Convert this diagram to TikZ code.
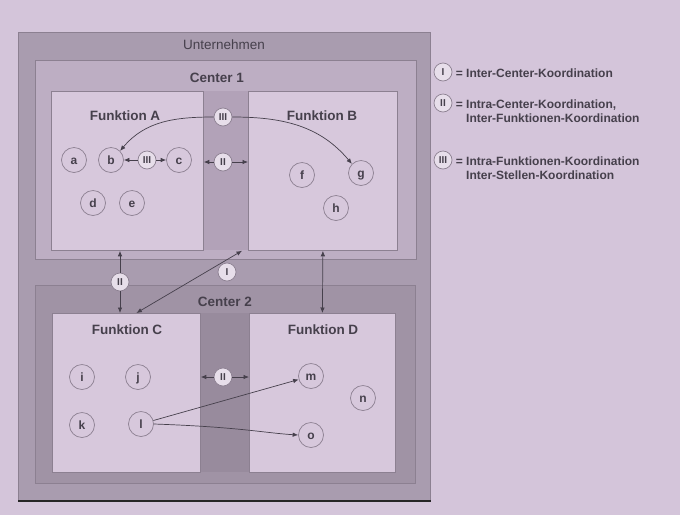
\documentclass[tikz,border=0pt]{standalone}
\usepackage{fontspec}
\setmainfont{Liberation Sans}
\usepackage{tikz}
\usetikzlibrary{arrows.meta}
\usetikzlibrary{positioning}
\definecolor{hinter}{HTML}{D4C5DA}
\definecolor{untern}{HTML}{A99CAF}
\definecolor{centereins}{HTML}{BDAEC3}
\definecolor{centerzwei}{HTML}{A093A5}
\definecolor{streifeneins}{HTML}{B2A2B8}
\definecolor{streifenzwei}{HTML}{988B9D}
\definecolor{funktion}{HTML}{D7C8DC}
\definecolor{rand}{HTML}{8C8091}
\definecolor{schrift}{HTML}{46404C}

\begin{document}
\begin{tikzpicture}
	[x=1pt,y=-1pt,
	 every node/.style={text=schrift},
	 kasten/.style={draw=rand,line width=0.8pt,inner sep=0pt,anchor=north west},
	 titel/.style={font=\fontsize{13.5}{15}\selectfont\bfseries},
	 stelle/.style={circle,draw=rand,line width=0.7pt,minimum size=25pt,inner sep=0pt,text height=8pt,text depth=0pt,font=\fontsize{12}{13}\selectfont\bfseries},
	 koord/.style={circle,draw=rand,line width=0.7pt,fill=funktion!60!white,minimum size=18pt,inner sep=0pt,text height=7pt,text depth=0pt,font=\fontsize{10}{11}\selectfont\bfseries},
	 legende/.style={anchor=north west,align=left,font=\fontsize{12}{14}\selectfont\bfseries},
	 pfeil/.style={draw=schrift,line width=0.7pt,-{Latex[length=5.5pt,width=4.5pt]}},
	 dpfeil/.style={pfeil,{Latex[length=5.5pt,width=4.5pt]}-{Latex[length=5.5pt,width=4.5pt]}}]
	\useasboundingbox[fill=hinter] (0,0) rectangle (680,515);
	% Kaesten
	\node[kasten,fill=untern,minimum width=412pt,minimum height=468pt] (unt) at (18,32) {};
	\draw[line width=2pt,black!85] (unt.south west) -- (unt.south east);
	\node[kasten,fill=centereins,minimum width=381pt,minimum height=199pt] (c1) at (35,60) {};
	\node[kasten,fill=centerzwei,minimum width=380pt,minimum height=198pt] (c2) at (35,285) {};
	\fill[streifeneins] (203,91) rectangle (248,250);
	\fill[streifenzwei] (200,313) rectangle (249,472);
	\node[kasten,fill=funktion,minimum width=152pt,minimum height=159pt] (fA) at (51,91) {};
	\node[kasten,fill=funktion,minimum width=149pt,minimum height=159pt] (fB) at (248,91) {};
	\node[kasten,fill=funktion,minimum width=148pt,minimum height=159pt] (fC) at (52,313) {};
	\node[kasten,fill=funktion,minimum width=146pt,minimum height=159pt] (fD) at (249,313) {};
	% Beschriftungen
	\node[font=\fontsize{13.5}{15}\selectfont] (tunt) at (224,45) {Unternehmen};
	\node[titel] (tc1) at (217,78) {Center 1};
	\node[titel] (tc2) at (225,302) {Center 2};
	\node[titel] (tfA) at (125,116) {Funktion A};
	\node[titel] (tfB) at (322,116) {Funktion B};
	\node[titel] (tfC) at (127,330) {Funktion C};
	\node[titel] (tfD) at (323,330) {Funktion D};
	% Stellen
	\node[stelle] (a) at (74,160) {a};
	\node[stelle] (b) at (111,160) {b};
	\node[stelle] (c) at (179,160) {c};
	\node[stelle] (d) at (93,203) {d};
	\node[stelle] (e) at (132,203) {e};
	\node[stelle] (f) at (302,175) {f};
	\node[stelle] (g) at (361,173) {g};
	\node[stelle] (h) at (336,208) {h};
	\node[stelle] (i) at (82,377) {i};
	\node[stelle] (j) at (138,377) {j};
	\node[stelle] (k) at (82,425) {k};
	\node[stelle] (l) at (141,424) {l};
	\node[stelle] (m) at (311,376) {m};
	\node[stelle] (n) at (363,398) {n};
	\node[stelle] (o) at (311,435) {o};
	% Koordination
	\node[koord] (kIIIbc) at (147,160) {III};
	\node[koord] (kIIIbg) at (223,117) {III};
	\node[koord] (kIIab) at (223,162) {II};
	\node[koord] (kIIcd) at (223,377) {II};
	\node[koord] (kIIac) at (120,282) {II};
	\node[koord] (kI) at (227,272) {I};
	\draw[pfeil] (kIIIbc) -- (b);
	\draw[pfeil] (kIIIbc) -- (c);
	\draw[pfeil] (kIIIbg.west) to[out=180,in=50] (b.north east);
	\draw[pfeil] (kIIIbg.east) to[out=0,in=130] (g.north west);
	\draw[pfeil] (kIIab) -- (kIIab -| fA.east);
	\draw[pfeil] (kIIab) -- (kIIab -| fB.west);
	\draw[pfeil] (kIIcd) -- (kIIcd -| fC.east);
	\draw[pfeil] (kIIcd) -- (kIIcd -| fD.west);
	\draw[pfeil] (kIIac) -- (kIIac |- fA.south);
	\draw[pfeil] (kIIac) -- (kIIac |- fC.north);
	\draw[dpfeil] (fB.south) -- (fD.north);
	\draw[dpfeil] ([xshift=-6pt]fB.south west) -- ([xshift=10pt]fC.north);
	\draw[pfeil] (l) -- (m);
	\draw[pfeil] (l.east) .. controls (240,427) and (265,433) .. (o.west);
	% Legende
	\node[koord] (lI) at (443,72) {I};
	\node[koord] (lII) at (443,103) {II};
	\node[koord] (lIII) at (443,160) {III};
	\node[legende] (tI) at ([yshift=7pt]lI.east) {= Inter-Center-Koordination};
	\node[legende] (tII) at ([yshift=7pt]lII.east) {= Intra-Center-Koordination,\\\phantom{= }Inter-Funktionen-Koordination};
	\node[legende] (tIII) at ([yshift=7pt]lIII.east) {= Intra-Funktionen-Koordination\\\phantom{= }Inter-Stellen-Koordination};
\end{tikzpicture}
\end{document}
